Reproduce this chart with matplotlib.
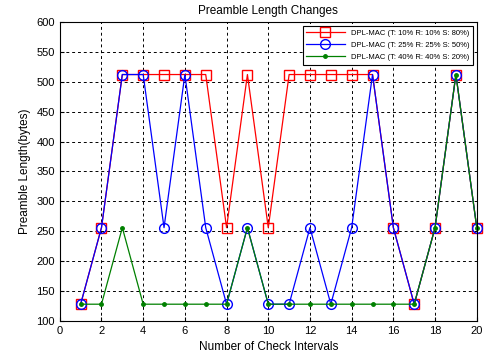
import matplotlib
matplotlib.use("Agg")
import matplotlib.pyplot as plt

x = list(range(1, 21))
t10 = [128, 256, 512, 512, 512, 512, 512, 256, 512, 256,
       512, 512, 512, 512, 512, 256, 128, 256, 512, 256]
t25 = [128, 256, 512, 512, 256, 512, 256, 128, 256, 128,
       128, 256, 128, 256, 512, 256, 128, 256, 512, 256]
t40 = [128, 128, 256, 128, 128, 128, 128, 128, 256, 128,
       128, 128, 128, 128, 128, 128, 128, 256, 512, 256]

labels = ["DPL-MAC (T: 10% R: 10% S: 80%)",
          "DPL-MAC (T: 25% R: 25% S: 50%)",
          "DPL-MAC (T: 40% R: 40% S: 20%)"]

plt.rcParams.update({"font.family": "Liberation Sans", "font.size": 8})

fig = plt.figure(figsize=(4.86, 3.59), dpi=100)
ax = fig.add_axes([0.123, 0.106, 0.858, 0.833])

ax.plot(x, t10, color="red", marker="s", markersize=7, markerfacecolor="none",
        linewidth=0.9, label=labels[0], clip_on=False)
ax.plot(x, t25, color="blue", marker="o", markersize=7, markerfacecolor="none",
        linewidth=0.9, label=labels[1], clip_on=False)
ax.plot(x, t40, color="green", marker=".", markersize=5,
        linewidth=0.9, label=labels[2], clip_on=False)

ax.set_xlim(0, 20)
ax.set_ylim(100, 600)
ax.set_xticks(range(0, 21, 2))
ax.set_yticks(range(100, 601, 50))
ax.grid(True, color="black", linestyle=(0, (3, 3)), linewidth=0.7)
ax.tick_params(direction="in", length=3, labelsize=8)
ax.set_title("Preamble Length Changes", fontsize=8.5)
ax.set_xlabel("Number of Check Intervals", fontsize=8.5)
ax.set_ylabel("Preamble Length(bytes)", fontsize=8.5)
leg = ax.legend(loc="upper right", fontsize=5.5, fancybox=False,
                edgecolor="black", framealpha=1, handlelength=5,
                borderpad=0.5, labelspacing=0.6)
leg.get_frame().set_linewidth(0.8)

fig.savefig("out.png", dpi=100)
